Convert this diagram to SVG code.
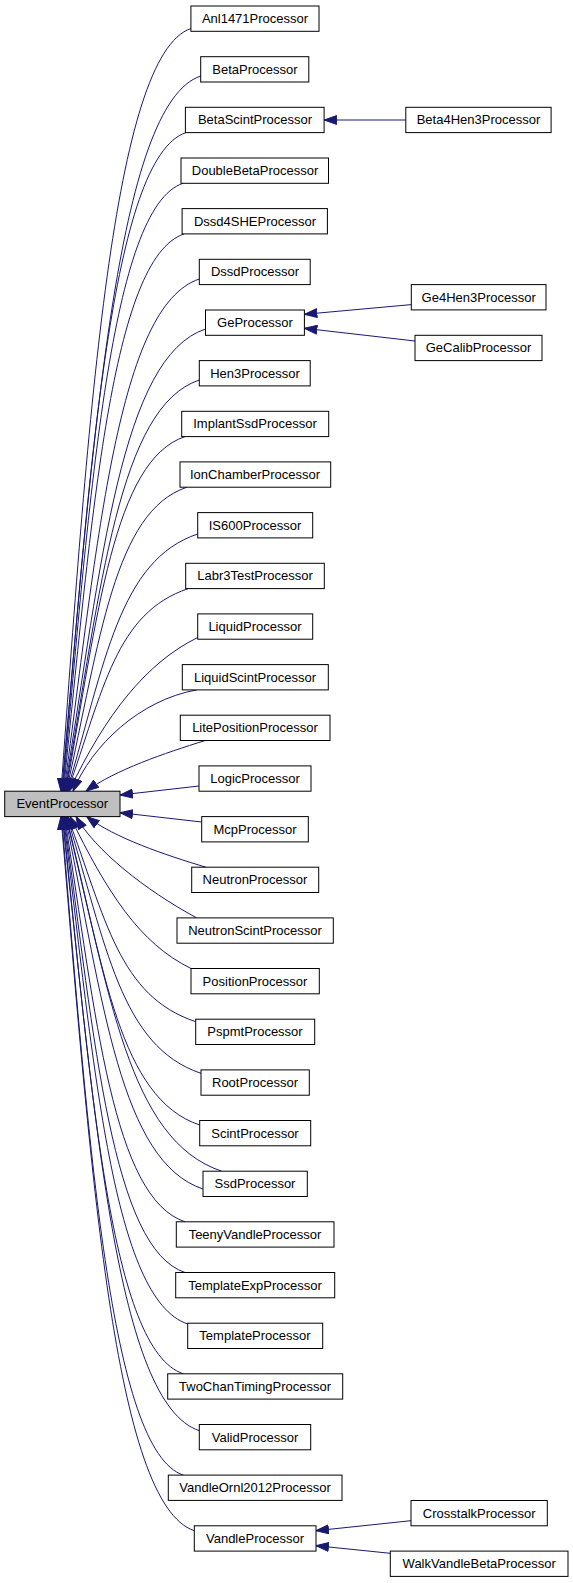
<svg xmlns="http://www.w3.org/2000/svg" width="573" height="1583" viewBox="0 0 573 1583">
<style>
.node rect{fill:#fff;stroke:#000;stroke-width:1}
.node.root rect{fill:#bfbfbf}
.node text{font-family:"Liberation Sans",Arial,sans-serif;font-size:13px;text-anchor:middle;fill:#000}
.edges path{fill:none;stroke:#191970;stroke-width:1;marker-end:url(#arr)}
</style>
<defs>
<marker id="arr" viewBox="0 0 14 10" refX="13" refY="5" markerWidth="14" markerHeight="10" markerUnits="userSpaceOnUse" orient="auto">
<path d="M0.5,0.6 L13,5 L0.5,9.4 z" fill="#191970" stroke="#191970" stroke-width="1"/>
</marker>
</defs>
<rect width="573" height="1583" fill="#fff"/>
<g id="edges" class="edges">
<path d="M191,28.5 C113,54.5 88.6,409.8 61,791.2"/>
<path d="M200.7,76 C117.2,103.8 93.2,433.6 61.6,791.2"/>
<path d="M186,132.6 C111.7,157.4 89.9,461.9 62.2,791.2"/>
<path d="M183,183.3 C110.9,207.3 90.3,487.2 62.8,791.2"/>
<path d="M184,234 C111.6,258.1 92.1,512.6 63.4,791.2"/>
<path d="M199.3,279 C118.1,306.1 98.4,535.1 64,791.2"/>
<path d="M205.5,329 C121,357.2 101.9,560.1 64.6,791.2"/>
<path d="M199.3,380 C118.8,406.8 101.3,585.6 65.2,791.2"/>
<path d="M185,436.6 C113.5,460.4 98,613.9 65.8,791.2"/>
<path d="M186.7,487.3 C114.5,511.4 100,639.2 66.4,791.2"/>
<path d="M197.7,534 C119.3,560.1 105,662.6 67,791.2"/>
<path d="M188.3,588.6 C115.9,612.7 103.3,689.9 67.6,791.2"/>
<path d="M197.7,637.5 C146,663 106,714 69,791.2"/>
<path d="M196.7,689.9 C140,700 92,745 73,791.2"/>
<path d="M205,740.6 C165,753 115,770 86,791.2"/>
<path d="M199,786 L120,795"/>
<path d="M201.7,822 L120,812.7"/>
<path d="M206,867.2 C165,855 115,838 86.7,816.6"/>
<path d="M196.7,917.9 C145,890 95,850 76,816.6"/>
<path d="M191,968.5 C139,943 107,892 70,816.6"/>
<path d="M195.7,1021.7 C118.8,996.1 105.8,919.2 67.6,816.6"/>
<path d="M201,1073.3 C120.6,1046.5 106.1,945 67,816.6"/>
<path d="M199.7,1125 C119.7,1098.3 104.2,970.8 66.4,816.6"/>
<path d="M221.7,1171.2 C128.2,1140 110.1,993.9 65.8,816.6"/>
<path d="M203,1189 C120.3,1161.4 103.3,1002.8 65.2,816.6"/>
<path d="M185,1221.8 C112.8,1197.7 96.2,1019.2 64.6,816.6"/>
<path d="M185,1272.5 C112.4,1248.3 94.8,1044.6 64,816.6"/>
<path d="M187.7,1324 C113.1,1299.1 94.3,1070.3 63.4,816.6"/>
<path d="M183.3,1373.8 C111,1349.7 91.5,1095.2 62.8,816.6"/>
<path d="M199.3,1430.7 C117,1403.3 95.1,1123.6 62.2,816.6"/>
<path d="M183.3,1475.1 C110.3,1450.8 88.6,1145.9 61.6,816.6"/>
<path d="M194.3,1530.7 C114.3,1504 90.7,1173.6 61,816.6"/>
<path d="M405.8,120 L324.1,120"/>
<path d="M411.3,304.6 L304.4,314.3"/>
<path d="M415,341 L304.4,328.3"/>
<path d="M411,1520.7 L316,1530.7"/>
<path d="M390.3,1553.3 L316,1545.7"/>
</g>
<g id="node-EventProcessor" class="node root"><rect x="4.7" y="791.2" width="115.3" height="25.4"/><text x="62.3" y="808.2">EventProcessor</text></g>
<g id="node-Anl1471Processor" class="node"><rect x="190.9" y="6" width="128.1" height="25.3"/><text x="255" y="23">Anl1471Processor</text></g>
<g id="node-BetaProcessor" class="node"><rect x="200.7" y="56.7" width="108.1" height="25.3"/><text x="255" y="73.7">BetaProcessor</text></g>
<g id="node-BetaScintProcessor" class="node"><rect x="185.4" y="107.3" width="138.7" height="25.3"/><text x="255" y="124.3">BetaScintProcessor</text></g>
<g id="node-DoubleBetaProcessor" class="node"><rect x="181" y="158" width="147.5" height="25.3"/><text x="255" y="175">DoubleBetaProcessor</text></g>
<g id="node-Dssd4SHEProcessor" class="node"><rect x="182.1" y="208.6" width="145.3" height="25.3"/><text x="255" y="225.6">Dssd4SHEProcessor</text></g>
<g id="node-DssdProcessor" class="node"><rect x="199.3" y="259.3" width="110.9" height="25.3"/><text x="255" y="276.3">DssdProcessor</text></g>
<g id="node-GeProcessor" class="node"><rect x="205.5" y="310" width="98.9" height="25.3"/><text x="255" y="327">GeProcessor</text></g>
<g id="node-Hen3Processor" class="node"><rect x="199.3" y="360.6" width="110.9" height="25.3"/><text x="255" y="377.6">Hen3Processor</text></g>
<g id="node-ImplantSsdProcessor" class="node"><rect x="181.7" y="411.3" width="147" height="25.3"/><text x="255" y="428.3">ImplantSsdProcessor</text></g>
<g id="node-IonChamberProcessor" class="node"><rect x="180" y="461.9" width="150.7" height="25.3"/><text x="255" y="478.9">IonChamberProcessor</text></g>
<g id="node-IS600Processor" class="node"><rect x="197.7" y="512.6" width="115" height="25.3"/><text x="255" y="529.6">IS600Processor</text></g>
<g id="node-Labr3TestProcessor" class="node"><rect x="185.7" y="563.3" width="138.6" height="25.3"/><text x="255" y="580.3">Labr3TestProcessor</text></g>
<g id="node-LiquidProcessor" class="node"><rect x="197.7" y="613.9" width="115" height="25.3"/><text x="255" y="630.9">LiquidProcessor</text></g>
<g id="node-LiquidScintProcessor" class="node"><rect x="182.3" y="664.6" width="146" height="25.3"/><text x="255" y="681.6">LiquidScintProcessor</text></g>
<g id="node-LitePositionProcessor" class="node"><rect x="180.3" y="715.2" width="149.7" height="25.3"/><text x="255" y="732.2">LitePositionProcessor</text></g>
<g id="node-LogicProcessor" class="node"><rect x="199" y="765.9" width="112" height="25.3"/><text x="255" y="782.9">LogicProcessor</text></g>
<g id="node-McpProcessor" class="node"><rect x="201.7" y="816.6" width="106.6" height="25.3"/><text x="255" y="833.6">McpProcessor</text></g>
<g id="node-NeutronProcessor" class="node"><rect x="191.7" y="867.2" width="127" height="25.3"/><text x="255" y="884.2">NeutronProcessor</text></g>
<g id="node-NeutronScintProcessor" class="node"><rect x="177" y="917.9" width="156.3" height="25.3"/><text x="255" y="934.9">NeutronScintProcessor</text></g>
<g id="node-PositionProcessor" class="node"><rect x="191" y="968.5" width="128.3" height="25.3"/><text x="255" y="985.5">PositionProcessor</text></g>
<g id="node-PspmtProcessor" class="node"><rect x="195.7" y="1019.2" width="119" height="25.3"/><text x="255" y="1036.2">PspmtProcessor</text></g>
<g id="node-RootProcessor" class="node"><rect x="201" y="1069.9" width="108.3" height="25.3"/><text x="255" y="1086.9">RootProcessor</text></g>
<g id="node-ScintProcessor" class="node"><rect x="199.7" y="1120.5" width="111" height="25.3"/><text x="255" y="1137.5">ScintProcessor</text></g>
<g id="node-SsdProcessor" class="node"><rect x="203" y="1171.2" width="104.3" height="25.3"/><text x="255" y="1188.2">SsdProcessor</text></g>
<g id="node-TeenyVandleProcessor" class="node"><rect x="176.3" y="1221.8" width="157.7" height="25.3"/><text x="255" y="1238.8">TeenyVandleProcessor</text></g>
<g id="node-TemplateExpProcessor" class="node"><rect x="175.7" y="1272.5" width="159" height="25.3"/><text x="255" y="1289.5">TemplateExpProcessor</text></g>
<g id="node-TemplateProcessor" class="node"><rect x="187.7" y="1323.2" width="135" height="25.3"/><text x="255" y="1340.2">TemplateProcessor</text></g>
<g id="node-TwoChanTimingProcessor" class="node"><rect x="167.7" y="1373.8" width="175" height="25.3"/><text x="255" y="1390.8">TwoChanTimingProcessor</text></g>
<g id="node-ValidProcessor" class="node"><rect x="199.3" y="1424.5" width="111.4" height="25.3"/><text x="255" y="1441.5">ValidProcessor</text></g>
<g id="node-VandleOrnl2012Processor" class="node"><rect x="168.3" y="1475.1" width="173.7" height="25.3"/><text x="255" y="1492.1">VandleOrnl2012Processor</text></g>
<g id="node-VandleProcessor" class="node"><rect x="194.3" y="1525.8" width="121.7" height="25.3"/><text x="255" y="1542.8">VandleProcessor</text></g>
<g id="node-Beta4Hen3Processor" class="node"><rect x="405.8" y="107.3" width="145.3" height="25.3"/><text x="478.5" y="124.3">Beta4Hen3Processor</text></g>
<g id="node-Ge4Hen3Processor" class="node"><rect x="411.3" y="284.6" width="134.7" height="25.3"/><text x="478.7" y="301.6">Ge4Hen3Processor</text></g>
<g id="node-GeCalibProcessor" class="node"><rect x="415" y="335.3" width="127" height="25.3"/><text x="478.5" y="352.3">GeCalibProcessor</text></g>
<g id="node-CrosstalkProcessor" class="node"><rect x="411" y="1500.5" width="136.3" height="25.3"/><text x="479.2" y="1517.5">CrosstalkProcessor</text></g>
<g id="node-WalkVandleBetaProcessor" class="node"><rect x="390.3" y="1551.1" width="177.7" height="25.3"/><text x="479.2" y="1568.1">WalkVandleBetaProcessor</text></g>
</svg>
